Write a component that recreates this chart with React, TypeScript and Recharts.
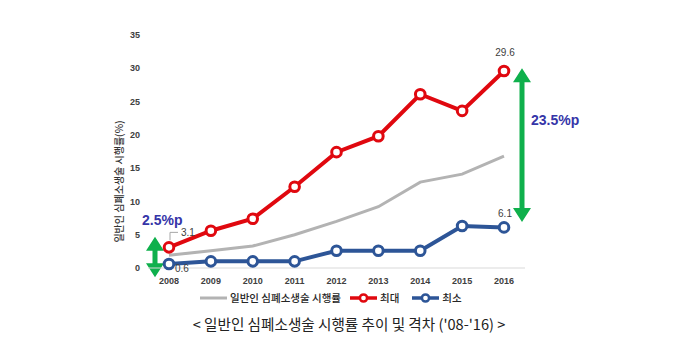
import { LineChart, Line, XAxis, YAxis, LabelList, ReferenceLine } from "recharts";

const years = ["2008", "2009", "2010", "2011", "2012", "2013", "2014", "2015", "2016"];
const generalRate = [1.9, 2.6, 3.3, 5.0, 7.0, 9.2, 12.9, 14.1, 16.8];
const maxRate = [3.1, 5.6, 7.4, 12.2, 17.4, 19.8, 26.1, 23.6, 29.6];
const minRate = [0.6, 1.0, 1.0, 1.0, 2.6, 2.6, 2.6, 6.3, 6.1];
const yTicks = [0, 5, 10, 15, 20, 25, 30, 35];

const seriesNames = ["일반인 심폐소생술 시행률", "최대", "최소"];
const chartTitle = "< 일반인 심폐소생술 시행률 추이 및 격차 ('08-'16) >";
const yLabel = "일반인 심폐소생술 시행률(%)";

// gap annotations: [year, top, bottom, text]
const bigGap = { year: "2016", top: 30.0, bottom: 6.9, text: "23.5%p" };
const smallGap = { year: "2008", top: 4.7, bottom: -1.4, text: "2.5%p" };

const data = years.map((year, i) => ({
  year,
  general: generalRate[i],
  max: maxRate[i],
  min: minRate[i],
}));

const GRAY = "#b3b3b3";
const RED = "#e0080f";
const BLUE = "#2d5597";
const GREEN = "#0fb04c";
const GAP_TEXT = "#3535a8";
const TEXT = "#404040";
const LABEL_FONT = "'Liberation Sans', Arial, sans-serif";
const KR_FONT = "'Noto Sans CJK KR', 'Noto Sans', sans-serif";

function GapArrow(props: any) {
  const { x1, y1, y2, dx, textDx, textDy, text } = props;
  if (x1 == null || y1 == null || y2 == null) return null;
  const x = x1 + dx;
  const top = Math.min(y1, y2);
  const bot = Math.max(y1, y2);
  const hw = 9;
  const hh = 14;
  const sw = 2.5;
  const pts = [
    [x, top],
    [x + hw, top + hh],
    [x + sw, top + hh],
    [x + sw, bot - hh],
    [x + hw, bot - hh],
    [x, bot],
    [x - hw, bot - hh],
    [x - sw, bot - hh],
    [x - sw, top + hh],
    [x - hw, top + hh],
  ]
    .map((p) => p.join(","))
    .join(" ");
  return (
    <g>
      <polygon points={pts} fill={GREEN} />
      <text
        x={x + textDx}
        y={top + textDy}
        fill={GAP_TEXT}
        fontSize={14}
        fontWeight="bold"
        fontFamily={LABEL_FONT}
        dominantBaseline="central"
      >
        {text}
      </text>
    </g>
  );
}

function maxLabel(props: any) {
  const { x, y, value, index } = props;
  if (index === 0) {
    return (
      <g>
        <polyline
          points={`${x + 1},${y - 7} ${x + 1},${y - 15} ${x + 9},${y - 15}`}
          fill="none"
          stroke="#a6a6a6"
          strokeWidth={1}
        />
        <text x={x + 12} y={y - 15} fontSize={10} fill={TEXT} fontFamily={LABEL_FONT} dominantBaseline="central">
          {value}
        </text>
      </g>
    );
  }
  if (index === years.length - 1) {
    return (
      <text x={x + 1} y={y - 18} fontSize={10} fill={TEXT} textAnchor="middle" fontFamily={LABEL_FONT} dominantBaseline="central">
        {value}
      </text>
    );
  }
  return null;
}

function minLabel(props: any) {
  const { x, y, value, index } = props;
  if (index === 0) {
    return (
      <text x={x + 6} y={y + 4} fontSize={10} fill={TEXT} fontFamily={LABEL_FONT} dominantBaseline="central">
        {value}
      </text>
    );
  }
  if (index === years.length - 1) {
    return (
      <text x={x + 1} y={y - 14} fontSize={10} fill={TEXT} textAnchor="middle" fontFamily={LABEL_FONT} dominantBaseline="central">
        {value}
      </text>
    );
  }
  return null;
}

function renderYLabel(props: any) {
  const vb = props.viewBox || { x: 98, y: 35, width: 50, height: 233 };
  const cx = vb.x + 20;
  const cy = vb.y + vb.height / 2 + 30;
  return (
    <text
      x={cx}
      y={cy}
      transform={`rotate(-90, ${cx}, ${cy})`}
      textAnchor="middle"
      dominantBaseline="central"
      fontSize={10}
      fontWeight={500}
      fill="#333"
      fontFamily={KR_FONT}
    >
      {yLabel}
    </text>
  );
}

function LegendIcon({ color, dot }: { color: string; dot: boolean }) {
  return (
    <svg width={27} height={12} style={{ display: "block" }}>
      <line x1={0} y1={6} x2={27} y2={6} stroke={color} strokeWidth={dot ? 3.5 : 3} />
      {dot && <circle cx={13.5} cy={6} r={3.6} fill="#fff" stroke={color} strokeWidth={2.5} />}
    </svg>
  );
}

export default function App() {
  const legendItems = [
    { name: seriesNames[0], color: GRAY, dot: false },
    { name: seriesNames[1], color: RED, dot: true },
    { name: seriesNames[2], color: BLUE, dot: true },
  ];

  return (
    <div style={{ position: "absolute", left: 0, top: 0, width: 680, height: 355, background: "#fff" }}>
      <LineChart width={680} height={355} data={data} margin={{ top: 35, right: 155, bottom: 62, left: 98 }}>
        <XAxis
          dataKey="year"
          height={25}
          padding={{ left: 21, right: 21 }}
          axisLine={{ stroke: "#d9d9d9" }}
          tickLine={false}
          tickSize={0}
          tickMargin={10}
          tick={{ fontSize: 9, fontWeight: "bold", fill: TEXT, fontFamily: LABEL_FONT }}
          interval={0}
        />
        <YAxis
          width={50}
          domain={[0, 35]}
          ticks={yTicks}
          axisLine={false}
          tickLine={false}
          tickSize={0}
          tickMargin={8}
          tick={{ fontSize: 9, fontWeight: "bold", fill: TEXT, fontFamily: LABEL_FONT }}
          label={{ content: renderYLabel }}
        />
        <Line
          dataKey="general"
          name={seriesNames[0]}
          stroke={GRAY}
          strokeWidth={3}
          dot={false}
          activeDot={false}
          isAnimationActive={false}
        />
        <Line
          dataKey="max"
          name={seriesNames[1]}
          stroke={RED}
          strokeWidth={4}
          dot={{ r: 4.8, fill: "#fff", stroke: RED, strokeWidth: 3 }}
          activeDot={false}
          isAnimationActive={false}
        >
          <LabelList dataKey="max" content={maxLabel} />
        </Line>
        <Line
          dataKey="min"
          name={seriesNames[2]}
          stroke={BLUE}
          strokeWidth={4}
          dot={{ r: 4.8, fill: "#fff", stroke: BLUE, strokeWidth: 3 }}
          activeDot={false}
          isAnimationActive={false}
        >
          <LabelList dataKey="min" content={minLabel} />
        </Line>
        <ReferenceLine
          segment={[
            { x: bigGap.year, y: bigGap.top },
            { x: bigGap.year, y: bigGap.bottom },
          ]}
          ifOverflow="visible"
          shape={(p: any) => <GapArrow {...p} dx={18} textDx={9} textDy={52} text={bigGap.text} />}
        />
        <ReferenceLine
          segment={[
            { x: smallGap.year, y: smallGap.top },
            { x: smallGap.year, y: smallGap.bottom },
          ]}
          ifOverflow="visible"
          shape={(p: any) => <GapArrow {...p} dx={-14} textDx={-13} textDy={-17} text={smallGap.text} />}
        />
      </LineChart>

      <div
        style={{
          position: "absolute",
          left: 200,
          top: 290,
          display: "flex",
          alignItems: "center",
          fontFamily: KR_FONT,
          fontSize: 10.5,
          fontWeight: 500,
          color: "#262626",
          whiteSpace: "nowrap",
        }}
      >
        {legendItems.map((item, i) => (
          <div key={item.name} style={{ display: "flex", alignItems: "center", marginRight: i === 0 ? 9 : 13 }}>
            <LegendIcon color={item.color} dot={item.dot} />
            <span style={{ marginLeft: 3 }}>{item.name}</span>
          </div>
        ))}
      </div>

      <div
        style={{
          position: "absolute",
          left: 0,
          top: 313,
          width: 680,
          paddingLeft: 18,
          boxSizing: "border-box",
          textAlign: "center",
          fontFamily: KR_FONT,
          fontSize: 14.6,
          color: "#222",
          whiteSpace: "nowrap",
        }}
      >
        {chartTitle}
      </div>
    </div>
  );
}
